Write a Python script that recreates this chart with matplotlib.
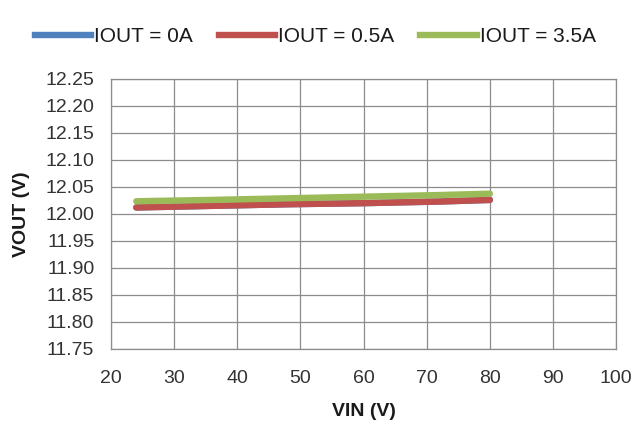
import matplotlib
matplotlib.use("Agg")
import matplotlib.pyplot as plt
from matplotlib.lines import Line2D

plt.rcParams['font.family'] = ['Liberation Sans', 'DejaVu Sans']

vin = [24, 36, 48, 60, 72, 80]
vout_0a = [12.012, 12.015, 12.018, 12.020, 12.023, 12.026]
vout_05a = [12.012, 12.015, 12.018, 12.020, 12.023, 12.026]
vout_35a = [12.0235, 12.026, 12.029, 12.032, 12.035, 12.0375]

series = [
    ("IOUT = 0A", vout_0a, "#4F81BD"),
    ("IOUT = 0.5A", vout_05a, "#C0504D"),
    ("IOUT = 3.5A", vout_35a, "#9BBB59"),
]

x_ticks = [20, 30, 40, 50, 60, 70, 80, 90, 100]
y_ticks = [11.75, 11.80, 11.85, 11.90, 11.95, 12.00, 12.05, 12.10, 12.15, 12.20, 12.25]

fig = plt.figure(figsize=(6.33, 4.24), dpi=100)
ax = fig.add_axes([0.1754, 0.1769, 0.798, 0.637])

# green drawn last so it sits on top, red over blue
for label, vals, color in series:
    ax.plot(vin, vals, color=color, lw=4.6, solid_capstyle='round', label=label)

ax.set_xlim(20, 100)
ax.set_ylim(11.75, 12.25)
ax.set_xticks(x_ticks)
ax.set_yticks(y_ticks)
ax.set_yticklabels([f"{v:.2f}" for v in y_ticks])
ax.tick_params(axis='both', length=0, labelsize=14, colors='#333333')
ax.tick_params(axis='x', pad=15)
ax.tick_params(axis='y', pad=12)
ax.grid(True, color='#8c8c8c', lw=0.9)
ax.set_axisbelow(True)
for s in ax.spines.values():
    s.set_color('#8c8c8c')
    s.set_linewidth(0.9)

ax.set_xlabel("VIN (V)", fontsize=14, fontweight='bold', labelpad=12, color='#1a1a1a')
ax.set_ylabel("VOUT (V)", fontsize=14, fontweight='bold', labelpad=11, color='#1a1a1a')

handles = [Line2D([0], [0], color=c, lw=4.6) for _, _, c in series]
fig.legend(handles, [l for l, _, _ in series], loc='center', bbox_to_anchor=(0.498, 0.913),
           ncol=3, frameon=False, fontsize=15, handlelength=2.7, handletextpad=0.15,
           columnspacing=1.25, labelcolor='#1a1a1a')

fig.savefig("out.png", dpi=100)
